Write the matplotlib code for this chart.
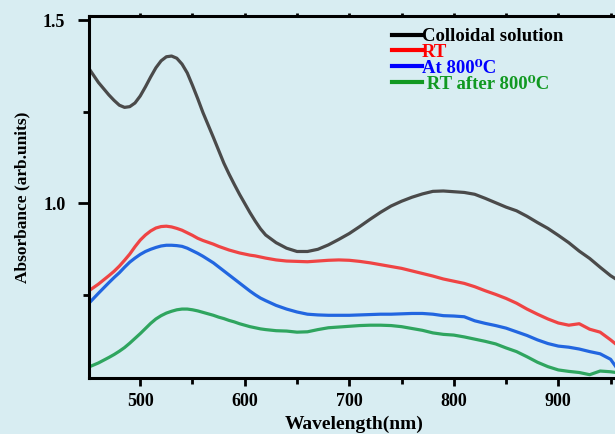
import matplotlib
matplotlib.use("Agg")
import matplotlib.pyplot as plt
from matplotlib.ticker import MultipleLocator, FormatStrFormatter

plt.rcParams['font.family'] = ['Liberation Serif', 'DejaVu Serif']
plt.rcParams['font.weight'] = 'bold'

# wavelength grid (nm)
wavelength = [450, 460, 470, 475, 480, 485, 490, 495, 500, 505,
              510, 515, 520, 525, 530, 535, 540, 545, 550, 555,
              560, 565, 570, 575, 580, 585, 590, 595, 600, 605,
              610, 615, 620, 630, 640,
              650, 660, 670, 680, 690, 700, 710, 720, 730, 740,
              750, 760, 770, 780, 790, 800, 810, 820, 830, 840,
              850, 860, 870, 880, 890, 900, 910, 920, 930, 940,
              950, 960]

colloidal = [1.372, 1.330, 1.296, 1.281, 1.268, 1.262, 1.264, 1.274, 1.293, 1.318,
             1.345, 1.370, 1.389, 1.400, 1.402, 1.396, 1.380, 1.356, 1.322, 1.286,
             1.248, 1.214, 1.180, 1.145, 1.110, 1.080, 1.052, 1.025, 1.000, 0.975,
             0.952, 0.931, 0.914, 0.893, 0.878,
             0.869, 0.869, 0.875, 0.887, 0.902, 0.918, 0.937, 0.957, 0.976, 0.993,
             1.006, 1.017, 1.026, 1.033, 1.034, 1.032, 1.030, 1.025, 1.014, 1.002,
             0.990, 0.980, 0.965, 0.948, 0.932, 0.913, 0.893, 0.870, 0.850, 0.826,
             0.803, 0.785]

rt = [0.760, 0.780, 0.803, 0.815, 0.829, 0.845, 0.862, 0.882, 0.900, 0.914,
      0.925, 0.933, 0.937, 0.938, 0.936, 0.932, 0.927, 0.920, 0.913, 0.905,
      0.899, 0.894, 0.889, 0.883, 0.878, 0.873, 0.869, 0.865, 0.862, 0.859,
      0.857, 0.854, 0.851, 0.846, 0.843,
      0.842, 0.841, 0.843, 0.845, 0.846, 0.845, 0.842, 0.838, 0.833, 0.828,
      0.823, 0.816, 0.809, 0.802, 0.794, 0.788, 0.782, 0.773, 0.762, 0.752,
      0.741, 0.728, 0.712, 0.698, 0.685, 0.674, 0.668, 0.672, 0.657, 0.649,
      0.628, 0.605]

at800 = [0.725, 0.755, 0.784, 0.798, 0.811, 0.826, 0.840, 0.851, 0.861, 0.869,
         0.875, 0.880, 0.884, 0.886, 0.886, 0.885, 0.883, 0.878, 0.871, 0.864,
         0.856, 0.847, 0.838, 0.827, 0.816, 0.805, 0.794, 0.783, 0.772, 0.761,
         0.751, 0.742, 0.735, 0.722, 0.712,
         0.704, 0.698, 0.696, 0.695, 0.695, 0.695, 0.696, 0.697, 0.698, 0.698,
         0.699, 0.700, 0.700, 0.698, 0.694, 0.693, 0.691, 0.680, 0.673, 0.667,
         0.660, 0.650, 0.640, 0.628, 0.618, 0.611, 0.608, 0.603, 0.596, 0.590,
         0.575, 0.535]

rt_after = [0.553, 0.565, 0.580, 0.588, 0.597, 0.607, 0.619, 0.632, 0.645, 0.659,
            0.673, 0.685, 0.694, 0.701, 0.706, 0.710, 0.712, 0.712, 0.710, 0.707,
            0.703, 0.699, 0.695, 0.690, 0.686, 0.681, 0.677, 0.672, 0.668, 0.664,
            0.661, 0.658, 0.656, 0.653, 0.652,
            0.649, 0.650, 0.656, 0.661, 0.663, 0.665, 0.667, 0.668, 0.668, 0.667,
            0.664, 0.659, 0.654, 0.647, 0.643, 0.641, 0.636, 0.630, 0.624, 0.617,
            0.606, 0.596, 0.582, 0.567, 0.555, 0.546, 0.542, 0.539, 0.533, 0.543,
            0.541, 0.537]

labels = ['Colloidal solution', 'RT', 'At 800\u2070C', ' RT after 800\u2070C']
curve_colors = ['#4a4a4a', '#ef4444', '#2266e0', '#2fa55f']
legend_colors = ['#000000', '#ff0000', '#0000ff', '#119922']

bg = '#d8edf2'
fig = plt.figure(figsize=(6.15, 4.34), dpi=100, facecolor=bg)
ax = fig.add_axes([89 / 615, 56 / 434, 531 / 615, 362.3 / 434])
ax.set_facecolor(bg)

for series, c, lab in zip([colloidal, rt, at800, rt_after], curve_colors, labels):
    ax.plot(wavelength, series, color=c, lw=2.3, label=lab)

ax.set_xlim(451, 959)
ax.set_ylim(0.524, 1.512)

ax.xaxis.set_major_locator(MultipleLocator(100))
ax.xaxis.set_minor_locator(MultipleLocator(50))
ax.yaxis.set_major_locator(MultipleLocator(0.5))
ax.yaxis.set_minor_locator(MultipleLocator(0.25))
ax.yaxis.set_major_formatter(FormatStrFormatter('%.1f'))

for s in ax.spines.values():
    s.set_linewidth(2.2)
ax.spines['right'].set_visible(False)

ax.tick_params(axis='both', which='major', direction='out', length=6, width=2,
               labelsize=13, pad=5)
ax.tick_params(axis='both', which='minor', direction='out', length=4, width=2)
ax.tick_params(axis='y', which='major', length=8, pad=9)
ax.tick_params(axis='x', which='both', top=True, labeltop=False)
# the top ticks are tiny in the original
for t in ax.xaxis.get_major_ticks() + ax.xaxis.get_minor_ticks():
    t.tick2line.set_markersize(2)

ax.set_xlabel('Wavelength(nm)', fontsize=14, fontweight='bold', labelpad=4)
ax.set_ylabel('Absorbance (arb.units)', fontsize=12.5, fontweight='bold', labelpad=9)

leg = ax.legend(loc='upper left', bbox_to_anchor=(0.571, 0.966), frameon=False,
                fontsize=13.5, handlelength=1.6, handletextpad=0.0, labelspacing=-0.07,
                borderpad=0, borderaxespad=0, labelcolor=legend_colors)
for h, c in zip(leg.legend_handles, legend_colors):
    h.set_color(c)
    h.set_linewidth(3)

fig.savefig('out.png', dpi=100, facecolor=bg)
